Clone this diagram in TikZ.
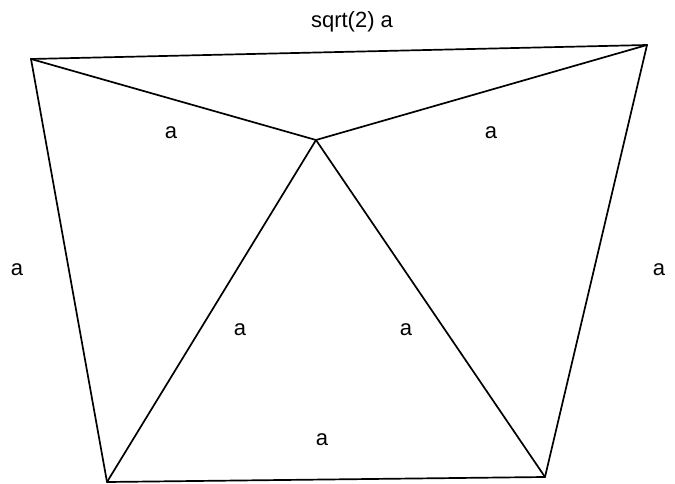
\documentclass[tikz,border=0pt]{standalone}
\usepackage{fontspec}
\setmainfont{Liberation Sans}
\begin{document}
\begin{tikzpicture}[x=1pt,y=-1pt,
  edge/.style={draw=black,line width=1.7pt,line cap=round,line join=round},
  lbl/.style={font=\fontsize{22}{26}\selectfont,inner sep=0pt}]
\useasboundingbox (0,0) rectangle (675,484);
\coordinate (A) at (31,59);
\coordinate (B) at (647,45);
\coordinate (C) at (316,140);
\coordinate (D) at (107,482);
\coordinate (E) at (545,477);
\draw[edge] (A) -- (B);
\draw[edge] (A) -- (C);
\draw[edge] (C) -- (B);
\draw[edge] (A) -- (D);
\draw[edge] (C) -- (D);
\draw[edge] (C) -- (E);
\draw[edge] (D) -- (E);
\draw[edge] (B) -- (E);
\node[lbl] (t1) at (352,22) {sqrt(2) a};
\node[lbl] (t2) at (171,133) {a};
\node[lbl] (t3) at (491,133) {a};
\node[lbl] (t4) at (17,270) {a};
\node[lbl] (t5) at (659,270) {a};
\node[lbl] (t6) at (240,330) {a};
\node[lbl] (t7) at (406,330) {a};
\node[lbl] (t8) at (322,440) {a};
\end{tikzpicture}
\end{document}
